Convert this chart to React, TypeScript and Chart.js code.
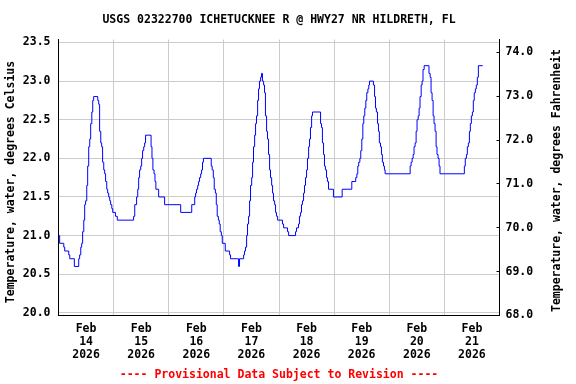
import React, { useEffect, useRef } from "react";
import { Chart, registerables } from "chart.js";

Chart.register(...registerables);

// Hours since Feb 14 2026 00:00 at which the reading changes, and the reading (deg C)
const changeHours: number[] = [
  0, 0.5, 2.3, 2.7, 4.45, 4.9, 6.9, 8.8, 9.2, 9.7, 10.1, 10.5, 11.0, 11.4, 11.8, 12.3, 12.7, 13.15, 13.6, 14.0,
  14.5, 14.9, 15.3, 17.1, 17.5, 17.9, 18.4, 18.8, 19.2, 19.7, 20.1, 20.5, 21.0, 21.4, 21.85, 22.3, 22.7, 23.2,
  23.6, 24.8, 25.6, 32.7, 33.2, 34.0, 34.5, 34.9, 35.3, 35.8, 36.2, 36.6, 37.1, 37.5, 37.9, 40.3, 40.7, 41.1,
  41.6, 42.0, 42.4, 43.6, 46.2, 53.2, 58.0, 59.3, 59.7, 60.1, 60.6, 61.0, 61.4, 61.9, 62.3, 62.7, 63.1, 66.5,
  66.9, 67.4, 67.8, 68.3, 68.7, 69.1, 69.6, 70.0, 70.4, 70.9, 71.3, 72.6, 74.5, 74.9, 78.4, 78.8, 80.6, 81.0,
  81.4, 81.9, 82.3, 82.75, 83.2, 83.6, 84.1, 84.5, 84.9, 85.4, 85.8, 86.2, 86.7, 87.1, 87.5, 88.0, 88.4, 88.8,
  89.3, 89.7, 90.1, 90.6, 91.0, 91.45, 91.9, 92.3, 92.8, 93.2, 93.6, 94.1, 94.5, 94.9, 95.4, 97.5, 98.0, 99.7,
  100.2, 103.2, 103.6, 104.5, 104.9, 105.4, 105.8, 106.2, 106.7, 107.1, 107.55, 108.0, 108.4, 108.9, 109.3,
  109.7, 110.2, 110.6, 114.1, 114.5, 114.9, 115.4, 115.8, 116.2, 116.7, 117.1, 117.55, 119.7, 123.5, 127.7,
  129.4, 129.9, 130.3, 130.7, 131.2, 131.6, 132.05, 132.5, 132.9, 133.35, 133.8, 134.2, 134.7, 135.1, 135.4,
  137.1, 137.6, 138.0, 138.4, 138.9, 139.3, 139.7, 140.2, 140.6, 141.0, 141.5, 141.9, 142.2, 153.1, 153.5,
  153.95, 154.4, 154.8, 155.25, 155.7, 156.1, 156.6, 157.0, 157.4, 157.9, 158.3, 158.7, 159.2, 161.3, 161.8,
  162.2, 162.65, 163.1, 163.5, 163.95, 164.4, 164.8, 165.25, 165.7, 166.1, 176.7, 177.1, 177.6, 178.0, 178.45,
  178.9, 179.3, 179.75, 180.2, 180.6, 181.0, 181.5, 181.9, 182.35, 182.8, 184.7,
];

const tempC: number[] = [
  21.0, 20.9, 20.85, 20.8, 20.75, 20.7, 20.6, 20.7, 20.75, 20.85, 20.9, 21.05, 21.2, 21.4, 21.45, 21.65, 21.9,
  22.15, 22.25, 22.45, 22.6, 22.75, 22.8, 22.75, 22.7, 22.35, 22.2, 22.15, 21.95, 21.85, 21.8, 21.7, 21.6,
  21.55, 21.5, 21.45, 21.4, 21.35, 21.3, 21.25, 21.2, 21.25, 21.4, 21.5, 21.6, 21.75, 21.85, 21.9, 22.0, 22.1,
  22.15, 22.2, 22.3, 22.15, 22.0, 21.85, 21.8, 21.7, 21.6, 21.5, 21.4, 21.3, 21.4, 21.5, 21.55, 21.6, 21.65,
  21.7, 21.75, 21.8, 21.85, 21.95, 22.0, 21.9, 21.85, 21.75, 21.6, 21.55, 21.4, 21.25, 21.2, 21.15, 21.05,
  21.0, 20.9, 20.8, 20.75, 20.7, 20.6, 20.7, 20.75, 20.8, 20.85, 21.0, 21.15, 21.25, 21.45, 21.65, 21.75,
  21.95, 22.15, 22.3, 22.45, 22.55, 22.75, 22.9, 23.0, 23.05, 23.1, 23.0, 22.95, 22.85, 22.55, 22.35, 22.25,
  22.05, 21.85, 21.75, 21.65, 21.55, 21.45, 21.4, 21.3, 21.25, 21.2, 21.15, 21.1, 21.05, 21.0, 21.05, 21.1,
  21.15, 21.25, 21.3, 21.4, 21.45, 21.55, 21.65, 21.75, 21.85, 22.0, 22.15, 22.25, 22.4, 22.55, 22.6, 22.45,
  22.4, 22.2, 22.05, 21.9, 21.85, 21.75, 21.7, 21.6, 21.5, 21.6, 21.7, 21.75, 21.8, 21.9, 21.95, 22.0, 22.1,
  22.25, 22.45, 22.55, 22.65, 22.75, 22.85, 22.9, 22.95, 23.0, 22.95, 22.8, 22.65, 22.6, 22.45, 22.35, 22.2,
  22.15, 22.05, 21.95, 21.9, 21.85, 21.8, 21.9, 21.95, 22.0, 22.05, 22.15, 22.2, 22.35, 22.5, 22.55, 22.65,
  22.8, 22.95, 23.0, 23.15, 23.2, 23.1, 23.05, 22.85, 22.75, 22.55, 22.45, 22.35, 22.15, 22.05, 22.0, 21.9,
  21.8, 21.9, 22.0, 22.05, 22.15, 22.2, 22.35, 22.45, 22.55, 22.6, 22.75, 22.85, 22.9, 22.95, 23.05, 23.2,
  23.2,
];

const celsiusTicks: number[] = [20.0, 20.5, 21.0, 21.5, 22.0, 22.5, 23.0, 23.5];
const fahrenheitTicks: number[] = [68.0, 69.0, 70.0, 71.0, 72.0, 73.0, 74.0];
const dayLabels: string[] = ["14", "15", "16", "17", "18", "19", "20", "21"];
const monthLabel = "Feb";
const yearLabel = "2026";

const titleText = "USGS 02322700 ICHETUCKNEE R @ HWY27 NR HILDRETH, FL";
const footerText = "---- Provisional Data Subject to Revision ----";
const leftAxisTitle = "Temperature, water, degrees Celsius";
const rightAxisTitle = "Temperature, water, degrees Fahrenheit";

const FONT = "'DejaVu Sans Mono', monospace";

const innerTicksPlugin = {
  id: "innerTicks",
  afterDraw(chart: any) {
    const s = chart.scales.y2;
    const area = chart.chartArea;
    const ctx = chart.ctx;
    ctx.save();
    ctx.strokeStyle = "#000";
    ctx.lineWidth = 1;
    s.ticks.forEach((t: any) => {
      const y = Math.round(s.getPixelForValue(t.value) - 0.5) + 0.5;
      ctx.beginPath();
      ctx.moveTo(area.right - 3, y);
      ctx.lineTo(area.right, y);
      ctx.stroke();
    });
    ctx.restore();
  },
};

// Both vertical axis titles read bottom-to-top, as in the reference
const axisTitlesPlugin = {
  id: "axisTitles",
  afterDraw(chart: any) {
    const ctx = chart.ctx;
    const area = chart.chartArea;
    const mid = (area.top + area.bottom) / 2;
    const items = [
      { text: leftAxisTitle, x: chart.scales.y.left + 10.9, y: mid + 4.5 },
      { text: rightAxisTitle, x: chart.scales.y2.right - 19.3, y: mid + 3 },
    ];
    ctx.save();
    ctx.fillStyle = "#000";
    ctx.font = `bold 11.5px ${FONT}`;
    ctx.textAlign = "center";
    ctx.textBaseline = "middle";
    items.forEach((it) => {
      ctx.save();
      ctx.translate(it.x, it.y);
      ctx.rotate(-Math.PI / 2);
      ctx.fillText(it.text, 0, 0);
      ctx.restore();
    });
    ctx.restore();
  },
};

export default function App() {
  const ref = useRef<HTMLCanvasElement | null>(null);

  useEffect(() => {
    if (!ref.current) return;
    const points = changeHours.map((h, i) => ({ x: h, y: tempC[i] }));
    const chart = new Chart(ref.current, {
      type: "line",
      data: {
        datasets: [
          {
            data: points,
            borderColor: "#0000ff",
            borderWidth: 1,
            pointRadius: 0,
            stepped: "before",
            fill: false,
          },
        ],
      },
      plugins: [innerTicksPlugin, axisTitlesPlugin],
      options: {
        animation: false,
        responsive: false,
        devicePixelRatio: 1,
        layout: { padding: 0 },
        plugins: {
          legend: { display: false },
          tooltip: { enabled: false },
          title: {
            display: true,
            text: titleText,
            fullSize: false,
            color: "#000",
            font: { family: FONT, weight: "bold", size: 11.5, lineHeight: 1.2 },
            padding: { top: 13.1, bottom: 12.6 },
          },
          subtitle: {
            display: true,
            position: "bottom",
            text: footerText,
            fullSize: false,
            color: "#ff0000",
            font: { family: FONT, weight: "bold", size: 11.5, lineHeight: 1.2 },
            padding: { top: 0, bottom: 2.1 },
          },
        },
        scales: {
          x: {
            type: "linear",
            min: 0,
            max: 192,
            afterFit: (s: any) => {
              s.height = 52.6;
            },
            afterBuildTicks: (s: any) => {
              const t: any[] = [];
              for (let h = 0; h <= 192; h += 12) t.push({ value: h });
              s.ticks = t;
            },
            ticks: {
              autoSkip: false,
              maxRotation: 0,
              minRotation: 0,
              padding: 7.5,
              color: "#000",
              font: { family: FONT, weight: "bold", size: 11.5, lineHeight: 1.13 },
              callback: (v: any) => {
                const n = Number(v);
                if (n % 24 !== 12) return "";
                return [monthLabel, dayLabels[(n - 12) / 24], yearLabel];
              },
            },
            grid: {
              drawTicks: false,
              lineWidth: 1,
              color: (c: any) => {
                const v = c.tick ? c.tick.value : 0;
                return v % 24 === 0 && v > 0 && v < 192 ? "#cccccc" : "rgba(0,0,0,0)";
              },
            },
            border: { display: true, color: "#000", width: 1 },
          },
          y: {
            position: "left",
            min: 19.965,
            max: 23.539,
            afterFit: (s: any) => {
              s.width = 58.5;
            },
            afterBuildTicks: (s: any) => {
              s.ticks = celsiusTicks.map((v) => ({ value: v }));
            },
            ticks: {
              padding: 8,
              color: "#000",
              font: { family: FONT, weight: "bold", size: 11.5 },
              callback: (v: any) => Number(v).toFixed(1),
            },
            grid: { drawTicks: false, color: "#cccccc", lineWidth: 1 },
            border: { display: true, color: "#000", width: 1 },
          },
          y2: {
            position: "right",
            min: 68,
            max: 74.292,
            afterFit: (s: any) => {
              s.width = 76.5;
            },
            afterBuildTicks: (s: any) => {
              s.ticks = fahrenheitTicks.map((v) => ({ value: v }));
            },
            ticks: {
              padding: 6,
              color: "#000",
              font: { family: FONT, weight: "bold", size: 11.5 },
              callback: (v: any) => Number(v).toFixed(1),
            },
            grid: { drawTicks: false, drawOnChartArea: false },
            border: { display: true, color: "#000", width: 1 },
          },
        },
      } as any,
    });
    return () => chart.destroy();
  }, []);

  return (
    <div style={{ position: "absolute", left: 0, top: 0, width: 576, height: 384, background: "#fff" }}>
      <canvas ref={ref} width={576} height={384} style={{ display: "block", width: 576, height: 384 }} />
    </div>
  );
}
